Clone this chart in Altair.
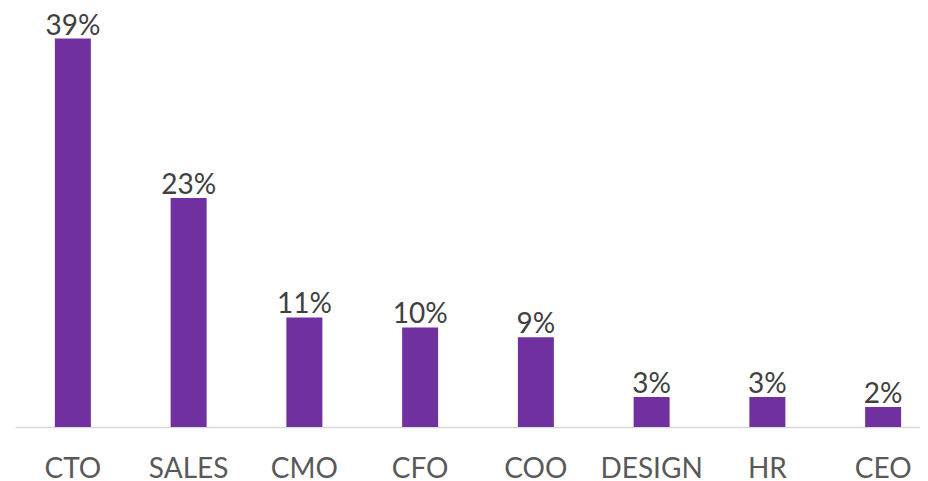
import altair as alt
import pandas as pd

roles = ["CTO", "SALES", "CMO", "CFO", "COO", "DESIGN", "HR", "CEO"]
shares = [39, 23, 11, 10, 9, 3, 3, 2]
labels = [f"{v}%" for v in shares]

df = pd.DataFrame({"role": roles, "share": shares, "label": labels})

FONT = "Lato"

x = alt.X(
    "role:N",
    sort=roles,
    title=None,
    scale=alt.Scale(range=[7, 933], paddingInner=0, paddingOuter=0),
    axis=alt.Axis(
        labelAngle=0,
        ticks=False,
        tickSize=0,
        grid=False,
        labelFont=FONT,
        labelFontSize=28,
        labelColor="#595959",
        labelBaseline="alphabetic",
        labelPadding=50,
        domainColor="#d9d9d9",
        domainWidth=1.3,
        labelOverlap=False,
    ),
)
y = alt.Y(
    "share:Q",
    scale=alt.Scale(domain=[0, 39], range=[419, 30.5], nice=False, zero=True),
    axis=None,
)

bars = alt.Chart(df).mark_bar(color="#7030A0", size=36).encode(x=x, y=y)
text = alt.Chart(df).mark_text(
    font=FONT, fontSize=28, color="#404040", baseline="alphabetic", dy=-4
).encode(x=x, y=y, text="label:N")

chart = (
    alt.layer(bars, text)
    .properties(
        width=912,
        height=419,
        padding={"left": 0, "top": 0, "right": 0, "bottom": 55},
        autosize=alt.AutoSizeParams(type="none"),
        background="transparent",
    )
    .configure_view(strokeWidth=0, stroke=None, fill=None)
)

chart.save("out.html", embed_options={"renderer": "svg", "actions": False})
